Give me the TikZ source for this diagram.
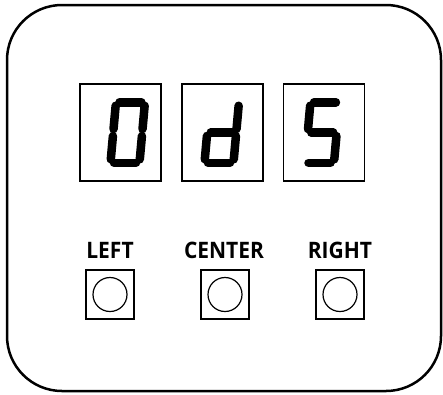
\documentclass[tikz,border=0pt]{standalone}
\usepackage{fontspec}
\setmainfont{Open Sans}
\usetikzlibrary{positioning}
\tikzset{
  panel/.style={draw, line width=2.5pt, rounded corners=55pt},
  digitbox/.style={draw, line width=1.4pt, minimum width=81pt, minimum height=97pt, inner sep=0pt},
  btnbox/.style={draw, line width=1.6pt, minimum width=48pt, minimum height=49pt, inner sep=0pt},
  btn/.style={draw, line width=1.2pt, circle, minimum size=34pt, inner sep=0pt},
  lbl/.style={font=\bfseries\fontsize{21}{23}\selectfont, inner sep=0pt, anchor=base, yscale=1.08},
  seg/.style={line width=8.5pt, line cap=round, shorten <=3.5pt, shorten >=3.5pt}
}
% segments of a slanted seven-segment digit, local origin bottom left
\newcommand\sega{\draw[seg] (0,60.5) -- (29,60.5);}
\newcommand\segb{\draw[seg] (29,60.5) -- (29,30.25);}
\newcommand\segc{\draw[seg] (29,30.25) -- (29,0);}
\newcommand\segd{\draw[seg] (0,0) -- (29,0);}
\newcommand\sege{\draw[seg] (0,0) -- (0,30.25);}
\newcommand\segf{\draw[seg] (0,30.25) -- (0,60.5);}
\newcommand\segg{\draw[seg] (0,30.25) -- (29,30.25);}

\begin{document}
\begin{tikzpicture}[x=1pt, y=-1pt]
  \useasboundingbox (0,0) rectangle (443,394);
  \draw[panel] (7,5) rectangle (441,391);

  \node[digitbox] (dig1) at (120.5,132.5) {};
  \node[digitbox] (dig2) at (222.5,132.5) {};
  \node[digitbox] (dig3) at (324,132.5) {};

  % 0
  \begin{scope}[shift={(110.5,162.75)}, x=1pt, y=1pt, xslant=0.09]
    \sega \segb \segc \segd \sege \segf
  \end{scope}
  % d
  \begin{scope}[shift={(204.5,162.75)}, x=1pt, y=1pt, xslant=0.09]
    \segb \segc \segd \sege \segg
  \end{scope}
  % 5
  \begin{scope}[shift={(305,162.75)}, x=1pt, y=1pt, xslant=0.09]
    \sega \segf \segg \segc \segd
  \end{scope}

  \node[btnbox] (left) at (110,294.5) {};
  \node[btnbox] (center) at (225,294.5) {};
  \node[btnbox] (right) at (340,294.5) {};
  \node[btn] (leftbtn) at (left) {};
  \node[btn] (centerbtn) at (center) {};
  \node[btn] (rightbtn) at (right) {};

  \node[lbl] (leftlbl) at (110,258) {LEFT};
  \node[lbl] (centerlbl) at (224,258) {CENTER};
  \node[lbl] (rightlbl) at (340,258) {RIGHT};
\end{tikzpicture}
\end{document}
